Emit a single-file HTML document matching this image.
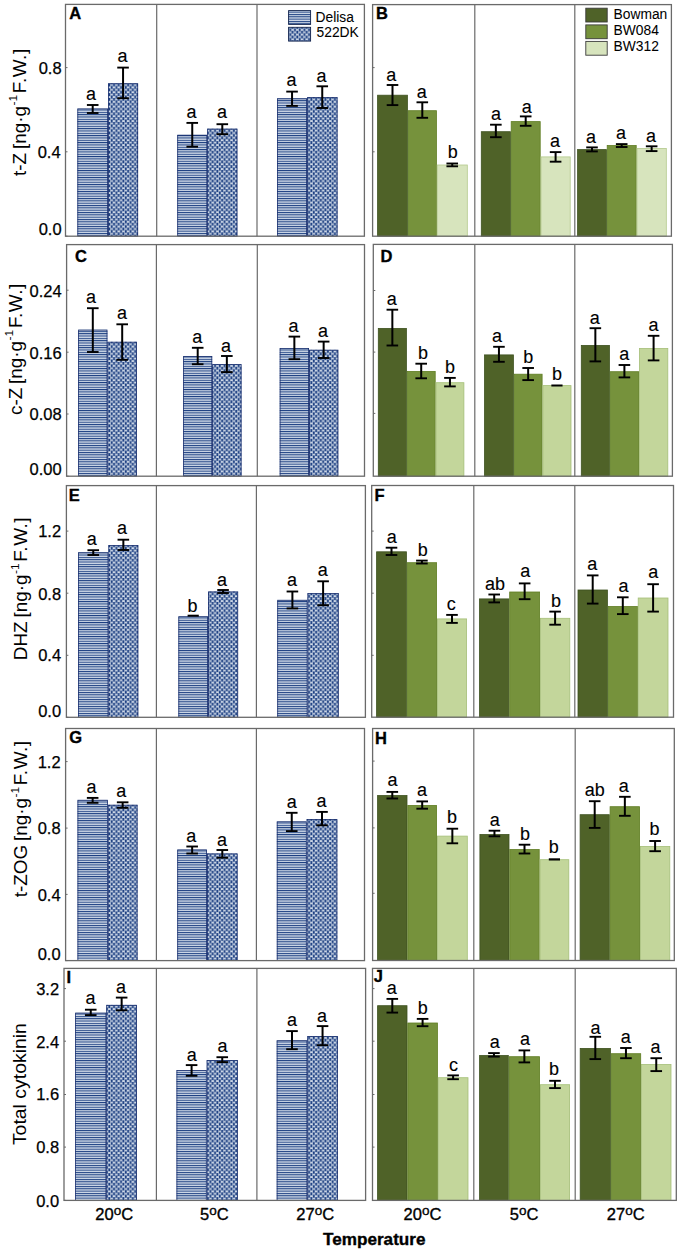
<!DOCTYPE html>
<html><head><meta charset="utf-8"><style>
html,body{margin:0;padding:0;background:#fff;}
body{width:685px;height:1250px;overflow:hidden;}
svg{display:block;}
</style></head><body>
<svg width="685" height="1250" viewBox="0 0 685 1250">
<defs>
<pattern id="hs" patternUnits="userSpaceOnUse" width="8" height="2.33"><rect width="8" height="2.33" fill="#d0dae8"/><rect y="0" width="8" height="1" fill="#1c3f82"/></pattern>
<pattern id="ck" patternUnits="userSpaceOnUse" width="4.7" height="4.8"><rect width="4.7" height="4.8" fill="#bccade"/><rect x="0" y="1.15" width="4.7" height="0.5" fill="#f4f7fb"/><rect x="0" y="3.55" width="4.7" height="0.5" fill="#f4f7fb"/><rect x="0.3" y="1.9" width="1.85" height="3.0" fill="#1c3f82"/><rect x="2.65" y="-0.5" width="1.85" height="3.0" fill="#1c3f82"/><rect x="2.65" y="4.3" width="1.85" height="3.0" fill="#1c3f82"/></pattern>
</defs>
<rect x="77.4" y="108.5" width="30.6" height="127.7" fill="url(#hs)"/>
<rect x="77.8" y="108.9" width="29.8" height="127.3" fill="none" stroke="#1a2f6e" stroke-width="0.8"/>
<rect x="108" y="83.3" width="30.1" height="152.9" fill="url(#ck)"/>
<rect x="108.4" y="83.7" width="29.3" height="152.5" fill="none" stroke="#1a2f6e" stroke-width="0.8"/>
<rect x="177.3" y="134.8" width="29.9" height="101.4" fill="url(#hs)"/>
<rect x="177.7" y="135.2" width="29.1" height="101" fill="none" stroke="#1a2f6e" stroke-width="0.8"/>
<rect x="207.2" y="128.7" width="30.2" height="107.5" fill="url(#ck)"/>
<rect x="207.6" y="129.1" width="29.4" height="107.1" fill="none" stroke="#1a2f6e" stroke-width="0.8"/>
<rect x="277.1" y="98.4" width="29.9" height="137.8" fill="url(#hs)"/>
<rect x="277.5" y="98.8" width="29.1" height="137.4" fill="none" stroke="#1a2f6e" stroke-width="0.8"/>
<rect x="307" y="97.2" width="30.5" height="139" fill="url(#ck)"/>
<rect x="307.4" y="97.6" width="29.7" height="138.6" fill="none" stroke="#1a2f6e" stroke-width="0.8"/>
<line x1="156.7" y1="4.4" x2="156.7" y2="236.2" stroke="#6a6a6a" stroke-width="1.2"/>
<line x1="257" y1="4.4" x2="257" y2="236.2" stroke="#6a6a6a" stroke-width="1.2"/>
<rect x="65.5" y="4.4" width="298.9" height="231.8" fill="none" stroke="#6a6a6a" stroke-width="1.3"/>
<line x1="65.5" y1="67.6" x2="67.5" y2="67.6" stroke="#6a6a6a" stroke-width="1"/>
<line x1="65.5" y1="151.8" x2="67.5" y2="151.8" stroke="#6a6a6a" stroke-width="1"/>
<line x1="65.5" y1="236.2" x2="67.5" y2="236.2" stroke="#6a6a6a" stroke-width="1"/>
<line x1="92.7" y1="105" x2="92.7" y2="113" stroke="#000" stroke-width="2"/>
<line x1="86.9" y1="105" x2="98.5" y2="105" stroke="#000" stroke-width="1.9"/>
<line x1="86.9" y1="113" x2="98.5" y2="113" stroke="#000" stroke-width="1.9"/>
<line x1="123.05" y1="67.6" x2="123.05" y2="98.2" stroke="#000" stroke-width="2"/>
<line x1="117.25" y1="67.6" x2="128.85" y2="67.6" stroke="#000" stroke-width="1.9"/>
<line x1="117.25" y1="98.2" x2="128.85" y2="98.2" stroke="#000" stroke-width="1.9"/>
<line x1="192.25" y1="122.9" x2="192.25" y2="146.7" stroke="#000" stroke-width="2"/>
<line x1="186.45" y1="122.9" x2="198.05" y2="122.9" stroke="#000" stroke-width="1.9"/>
<line x1="186.45" y1="146.7" x2="198.05" y2="146.7" stroke="#000" stroke-width="1.9"/>
<line x1="222.3" y1="124.2" x2="222.3" y2="134.2" stroke="#000" stroke-width="2"/>
<line x1="216.5" y1="124.2" x2="228.1" y2="124.2" stroke="#000" stroke-width="1.9"/>
<line x1="216.5" y1="134.2" x2="228.1" y2="134.2" stroke="#000" stroke-width="1.9"/>
<line x1="292.05" y1="91.6" x2="292.05" y2="105.9" stroke="#000" stroke-width="2"/>
<line x1="286.25" y1="91.6" x2="297.85" y2="91.6" stroke="#000" stroke-width="1.9"/>
<line x1="286.25" y1="105.9" x2="297.85" y2="105.9" stroke="#000" stroke-width="1.9"/>
<line x1="322.25" y1="86.3" x2="322.25" y2="108" stroke="#000" stroke-width="2"/>
<line x1="316.45" y1="86.3" x2="328.05" y2="86.3" stroke="#000" stroke-width="1.9"/>
<line x1="316.45" y1="108" x2="328.05" y2="108" stroke="#000" stroke-width="1.9"/>
<rect x="377.6" y="95.2" width="29.8" height="141" fill="#4f6228" stroke="#3e5220" stroke-width="0.8"/>
<rect x="408.2" y="110.7" width="28.2" height="125.5" fill="#76923c" stroke="#5f7d22" stroke-width="0.8"/>
<rect x="437.2" y="165" width="30.1" height="71.2" fill="#d7e4bd" stroke="#b3c98c" stroke-width="0.8"/>
<rect x="481.3" y="131.7" width="29.1" height="104.5" fill="#4f6228" stroke="#3e5220" stroke-width="0.8"/>
<rect x="511.2" y="121.6" width="29" height="114.6" fill="#76923c" stroke="#5f7d22" stroke-width="0.8"/>
<rect x="541" y="156.9" width="29.2" height="79.3" fill="#d7e4bd" stroke="#b3c98c" stroke-width="0.8"/>
<rect x="577.6" y="149.6" width="28.8" height="86.6" fill="#4f6228" stroke="#3e5220" stroke-width="0.8"/>
<rect x="607.2" y="145.5" width="29" height="90.7" fill="#76923c" stroke="#5f7d22" stroke-width="0.8"/>
<rect x="637" y="148.4" width="29.3" height="87.8" fill="#d7e4bd" stroke="#b3c98c" stroke-width="0.8"/>
<line x1="474.8" y1="4.6" x2="474.8" y2="236.2" stroke="#6a6a6a" stroke-width="1.2"/>
<line x1="574.8" y1="4.6" x2="574.8" y2="236.2" stroke="#6a6a6a" stroke-width="1.2"/>
<rect x="372.6" y="4.6" width="298.8" height="231.6" fill="none" stroke="#6a6a6a" stroke-width="1.3"/>
<line x1="372.6" y1="67.6" x2="374.6" y2="67.6" stroke="#6a6a6a" stroke-width="1"/>
<line x1="372.6" y1="151.8" x2="374.6" y2="151.8" stroke="#6a6a6a" stroke-width="1"/>
<line x1="392.5" y1="85" x2="392.5" y2="105.1" stroke="#000" stroke-width="2"/>
<line x1="386.7" y1="85" x2="398.3" y2="85" stroke="#000" stroke-width="1.9"/>
<line x1="386.7" y1="105.1" x2="398.3" y2="105.1" stroke="#000" stroke-width="1.9"/>
<line x1="422.3" y1="102.3" x2="422.3" y2="117.8" stroke="#000" stroke-width="2"/>
<line x1="416.5" y1="102.3" x2="428.1" y2="102.3" stroke="#000" stroke-width="1.9"/>
<line x1="416.5" y1="117.8" x2="428.1" y2="117.8" stroke="#000" stroke-width="1.9"/>
<line x1="452.25" y1="163.5" x2="452.25" y2="166.3" stroke="#000" stroke-width="2"/>
<line x1="446.45" y1="163.5" x2="458.05" y2="163.5" stroke="#000" stroke-width="1.9"/>
<line x1="446.45" y1="166.3" x2="458.05" y2="166.3" stroke="#000" stroke-width="1.9"/>
<line x1="495.85" y1="124.7" x2="495.85" y2="137.2" stroke="#000" stroke-width="2"/>
<line x1="490.05" y1="124.7" x2="501.65" y2="124.7" stroke="#000" stroke-width="1.9"/>
<line x1="490.05" y1="137.2" x2="501.65" y2="137.2" stroke="#000" stroke-width="1.9"/>
<line x1="525.7" y1="116.4" x2="525.7" y2="125.8" stroke="#000" stroke-width="2"/>
<line x1="519.9" y1="116.4" x2="531.5" y2="116.4" stroke="#000" stroke-width="1.9"/>
<line x1="519.9" y1="125.8" x2="531.5" y2="125.8" stroke="#000" stroke-width="1.9"/>
<line x1="555.6" y1="152.1" x2="555.6" y2="161.7" stroke="#000" stroke-width="2"/>
<line x1="549.8" y1="152.1" x2="561.4" y2="152.1" stroke="#000" stroke-width="1.9"/>
<line x1="549.8" y1="161.7" x2="561.4" y2="161.7" stroke="#000" stroke-width="1.9"/>
<line x1="592" y1="147.4" x2="592" y2="151.4" stroke="#000" stroke-width="2"/>
<line x1="586.2" y1="147.4" x2="597.8" y2="147.4" stroke="#000" stroke-width="1.9"/>
<line x1="586.2" y1="151.4" x2="597.8" y2="151.4" stroke="#000" stroke-width="1.9"/>
<line x1="621.7" y1="144.1" x2="621.7" y2="147" stroke="#000" stroke-width="2"/>
<line x1="615.9" y1="144.1" x2="627.5" y2="144.1" stroke="#000" stroke-width="1.9"/>
<line x1="615.9" y1="147" x2="627.5" y2="147" stroke="#000" stroke-width="1.9"/>
<line x1="651.65" y1="146.3" x2="651.65" y2="151.1" stroke="#000" stroke-width="2"/>
<line x1="645.85" y1="146.3" x2="657.45" y2="146.3" stroke="#000" stroke-width="1.9"/>
<line x1="645.85" y1="151.1" x2="657.45" y2="151.1" stroke="#000" stroke-width="1.9"/>
<rect x="78.2" y="329.7" width="29.2" height="146.5" fill="url(#hs)"/>
<rect x="78.6" y="330.1" width="28.4" height="146.1" fill="none" stroke="#1a2f6e" stroke-width="0.8"/>
<rect x="107.4" y="341.8" width="29.6" height="134.4" fill="url(#ck)"/>
<rect x="107.8" y="342.2" width="28.8" height="134" fill="none" stroke="#1a2f6e" stroke-width="0.8"/>
<rect x="183.2" y="356" width="29" height="120.2" fill="url(#hs)"/>
<rect x="183.6" y="356.4" width="28.2" height="119.8" fill="none" stroke="#1a2f6e" stroke-width="0.8"/>
<rect x="212.2" y="364.2" width="29.3" height="112" fill="url(#ck)"/>
<rect x="212.6" y="364.6" width="28.5" height="111.6" fill="none" stroke="#1a2f6e" stroke-width="0.8"/>
<rect x="279.7" y="348" width="29.3" height="128.2" fill="url(#hs)"/>
<rect x="280.1" y="348.4" width="28.5" height="127.8" fill="none" stroke="#1a2f6e" stroke-width="0.8"/>
<rect x="309" y="349.8" width="29.3" height="126.4" fill="url(#ck)"/>
<rect x="309.4" y="350.2" width="28.5" height="126" fill="none" stroke="#1a2f6e" stroke-width="0.8"/>
<line x1="156.4" y1="244.6" x2="156.4" y2="476.2" stroke="#6a6a6a" stroke-width="1.2"/>
<line x1="257.3" y1="244.6" x2="257.3" y2="476.2" stroke="#6a6a6a" stroke-width="1.2"/>
<rect x="66.6" y="244.6" width="297.9" height="231.6" fill="none" stroke="#6a6a6a" stroke-width="1.3"/>
<line x1="66.6" y1="290.2" x2="68.6" y2="290.2" stroke="#6a6a6a" stroke-width="1"/>
<line x1="66.6" y1="352.2" x2="68.6" y2="352.2" stroke="#6a6a6a" stroke-width="1"/>
<line x1="66.6" y1="414" x2="68.6" y2="414" stroke="#6a6a6a" stroke-width="1"/>
<line x1="66.6" y1="476.2" x2="68.6" y2="476.2" stroke="#6a6a6a" stroke-width="1"/>
<line x1="92.8" y1="308.2" x2="92.8" y2="352" stroke="#000" stroke-width="2"/>
<line x1="87" y1="308.2" x2="98.6" y2="308.2" stroke="#000" stroke-width="1.9"/>
<line x1="87" y1="352" x2="98.6" y2="352" stroke="#000" stroke-width="1.9"/>
<line x1="122.2" y1="324.3" x2="122.2" y2="359.8" stroke="#000" stroke-width="2"/>
<line x1="116.4" y1="324.3" x2="128" y2="324.3" stroke="#000" stroke-width="1.9"/>
<line x1="116.4" y1="359.8" x2="128" y2="359.8" stroke="#000" stroke-width="1.9"/>
<line x1="197.7" y1="347.8" x2="197.7" y2="364.2" stroke="#000" stroke-width="2"/>
<line x1="191.9" y1="347.8" x2="203.5" y2="347.8" stroke="#000" stroke-width="1.9"/>
<line x1="191.9" y1="364.2" x2="203.5" y2="364.2" stroke="#000" stroke-width="1.9"/>
<line x1="226.85" y1="356" x2="226.85" y2="372.1" stroke="#000" stroke-width="2"/>
<line x1="221.05" y1="356" x2="232.65" y2="356" stroke="#000" stroke-width="1.9"/>
<line x1="221.05" y1="372.1" x2="232.65" y2="372.1" stroke="#000" stroke-width="1.9"/>
<line x1="294.35" y1="336.6" x2="294.35" y2="359.2" stroke="#000" stroke-width="2"/>
<line x1="288.55" y1="336.6" x2="300.15" y2="336.6" stroke="#000" stroke-width="1.9"/>
<line x1="288.55" y1="359.2" x2="300.15" y2="359.2" stroke="#000" stroke-width="1.9"/>
<line x1="323.65" y1="341.6" x2="323.65" y2="358" stroke="#000" stroke-width="2"/>
<line x1="317.85" y1="341.6" x2="329.45" y2="341.6" stroke="#000" stroke-width="1.9"/>
<line x1="317.85" y1="358" x2="329.45" y2="358" stroke="#000" stroke-width="1.9"/>
<rect x="378.3" y="328.4" width="28.1" height="147.8" fill="#4f6228" stroke="#3e5220" stroke-width="0.8"/>
<rect x="407.2" y="371.4" width="28" height="104.8" fill="#76923c" stroke="#5f7d22" stroke-width="0.8"/>
<rect x="436" y="382.7" width="27.9" height="93.5" fill="#c3d69b" stroke="#a5bf78" stroke-width="0.8"/>
<rect x="484.5" y="354.9" width="28.9" height="121.3" fill="#4f6228" stroke="#3e5220" stroke-width="0.8"/>
<rect x="514.2" y="374.2" width="27.9" height="102" fill="#76923c" stroke="#5f7d22" stroke-width="0.8"/>
<rect x="542.9" y="385.6" width="28.1" height="90.6" fill="#c3d69b" stroke="#a5bf78" stroke-width="0.8"/>
<rect x="581.3" y="345.4" width="28.1" height="130.8" fill="#4f6228" stroke="#3e5220" stroke-width="0.8"/>
<rect x="610.2" y="371.7" width="28.4" height="104.5" fill="#76923c" stroke="#5f7d22" stroke-width="0.8"/>
<rect x="639.4" y="348.4" width="28.4" height="127.8" fill="#c3d69b" stroke="#a5bf78" stroke-width="0.8"/>
<line x1="474.8" y1="244.4" x2="474.8" y2="476.2" stroke="#6a6a6a" stroke-width="1.2"/>
<line x1="574.8" y1="244.4" x2="574.8" y2="476.2" stroke="#6a6a6a" stroke-width="1.2"/>
<rect x="373.3" y="244.4" width="299.1" height="231.8" fill="none" stroke="#6a6a6a" stroke-width="1.3"/>
<line x1="373.3" y1="290.5" x2="375.3" y2="290.5" stroke="#6a6a6a" stroke-width="1"/>
<line x1="373.3" y1="352.1" x2="375.3" y2="352.1" stroke="#6a6a6a" stroke-width="1"/>
<line x1="373.3" y1="413.4" x2="375.3" y2="413.4" stroke="#6a6a6a" stroke-width="1"/>
<line x1="392.35" y1="309.7" x2="392.35" y2="345.5" stroke="#000" stroke-width="2"/>
<line x1="386.55" y1="309.7" x2="398.15" y2="309.7" stroke="#000" stroke-width="1.9"/>
<line x1="386.55" y1="345.5" x2="398.15" y2="345.5" stroke="#000" stroke-width="1.9"/>
<line x1="421.2" y1="363.7" x2="421.2" y2="378.3" stroke="#000" stroke-width="2"/>
<line x1="415.4" y1="363.7" x2="427" y2="363.7" stroke="#000" stroke-width="1.9"/>
<line x1="415.4" y1="378.3" x2="427" y2="378.3" stroke="#000" stroke-width="1.9"/>
<line x1="449.95" y1="377.9" x2="449.95" y2="386.4" stroke="#000" stroke-width="2"/>
<line x1="444.15" y1="377.9" x2="455.75" y2="377.9" stroke="#000" stroke-width="1.9"/>
<line x1="444.15" y1="386.4" x2="455.75" y2="386.4" stroke="#000" stroke-width="1.9"/>
<line x1="498.95" y1="346.8" x2="498.95" y2="361.8" stroke="#000" stroke-width="2"/>
<line x1="493.15" y1="346.8" x2="504.75" y2="346.8" stroke="#000" stroke-width="1.9"/>
<line x1="493.15" y1="361.8" x2="504.75" y2="361.8" stroke="#000" stroke-width="1.9"/>
<line x1="528.15" y1="368" x2="528.15" y2="380.1" stroke="#000" stroke-width="2"/>
<line x1="522.35" y1="368" x2="533.95" y2="368" stroke="#000" stroke-width="1.9"/>
<line x1="522.35" y1="380.1" x2="533.95" y2="380.1" stroke="#000" stroke-width="1.9"/>
<line x1="551.35" y1="385.5" x2="562.55" y2="385.5" stroke="#000" stroke-width="2"/>
<line x1="595.35" y1="328.2" x2="595.35" y2="361.4" stroke="#000" stroke-width="2"/>
<line x1="589.55" y1="328.2" x2="601.15" y2="328.2" stroke="#000" stroke-width="1.9"/>
<line x1="589.55" y1="361.4" x2="601.15" y2="361.4" stroke="#000" stroke-width="1.9"/>
<line x1="624.4" y1="365" x2="624.4" y2="377.4" stroke="#000" stroke-width="2"/>
<line x1="618.6" y1="365" x2="630.2" y2="365" stroke="#000" stroke-width="1.9"/>
<line x1="618.6" y1="377.4" x2="630.2" y2="377.4" stroke="#000" stroke-width="1.9"/>
<line x1="653.6" y1="335.8" x2="653.6" y2="360.4" stroke="#000" stroke-width="2"/>
<line x1="647.8" y1="335.8" x2="659.4" y2="335.8" stroke="#000" stroke-width="1.9"/>
<line x1="647.8" y1="360.4" x2="659.4" y2="360.4" stroke="#000" stroke-width="1.9"/>
<rect x="78.1" y="552.4" width="30.3" height="164.9" fill="url(#hs)"/>
<rect x="78.5" y="552.8" width="29.5" height="164.5" fill="none" stroke="#1a2f6e" stroke-width="0.8"/>
<rect x="108.4" y="545.2" width="29.9" height="172.1" fill="url(#ck)"/>
<rect x="108.8" y="545.6" width="29.1" height="171.7" fill="none" stroke="#1a2f6e" stroke-width="0.8"/>
<rect x="178.4" y="616.3" width="29.6" height="101" fill="url(#hs)"/>
<rect x="178.8" y="616.7" width="28.8" height="100.6" fill="none" stroke="#1a2f6e" stroke-width="0.8"/>
<rect x="208" y="591.5" width="30.1" height="125.8" fill="url(#ck)"/>
<rect x="208.4" y="591.9" width="29.3" height="125.4" fill="none" stroke="#1a2f6e" stroke-width="0.8"/>
<rect x="277.3" y="599.9" width="30.2" height="117.4" fill="url(#hs)"/>
<rect x="277.7" y="600.3" width="29.4" height="117" fill="none" stroke="#1a2f6e" stroke-width="0.8"/>
<rect x="307.5" y="593.2" width="31.2" height="124.1" fill="url(#ck)"/>
<rect x="307.9" y="593.6" width="30.4" height="123.7" fill="none" stroke="#1a2f6e" stroke-width="0.8"/>
<line x1="156.4" y1="485.6" x2="156.4" y2="717.3" stroke="#6a6a6a" stroke-width="1.2"/>
<line x1="256.4" y1="485.6" x2="256.4" y2="717.3" stroke="#6a6a6a" stroke-width="1.2"/>
<rect x="66.4" y="485.6" width="299" height="231.7" fill="none" stroke="#6a6a6a" stroke-width="1.3"/>
<line x1="66.4" y1="531.1" x2="68.4" y2="531.1" stroke="#6a6a6a" stroke-width="1"/>
<line x1="66.4" y1="593.2" x2="68.4" y2="593.2" stroke="#6a6a6a" stroke-width="1"/>
<line x1="66.4" y1="655.3" x2="68.4" y2="655.3" stroke="#6a6a6a" stroke-width="1"/>
<line x1="66.4" y1="717.3" x2="68.4" y2="717.3" stroke="#6a6a6a" stroke-width="1"/>
<line x1="93.25" y1="550.2" x2="93.25" y2="555" stroke="#000" stroke-width="2"/>
<line x1="87.45" y1="550.2" x2="99.05" y2="550.2" stroke="#000" stroke-width="1.9"/>
<line x1="87.45" y1="555" x2="99.05" y2="555" stroke="#000" stroke-width="1.9"/>
<line x1="123.35" y1="539.7" x2="123.35" y2="550" stroke="#000" stroke-width="2"/>
<line x1="117.55" y1="539.7" x2="129.15" y2="539.7" stroke="#000" stroke-width="1.9"/>
<line x1="117.55" y1="550" x2="129.15" y2="550" stroke="#000" stroke-width="1.9"/>
<line x1="187.6" y1="615.7" x2="198.8" y2="615.7" stroke="#000" stroke-width="2"/>
<line x1="223.05" y1="590" x2="223.05" y2="593" stroke="#000" stroke-width="2"/>
<line x1="217.25" y1="590" x2="228.85" y2="590" stroke="#000" stroke-width="1.9"/>
<line x1="217.25" y1="593" x2="228.85" y2="593" stroke="#000" stroke-width="1.9"/>
<line x1="292.4" y1="591.5" x2="292.4" y2="608.4" stroke="#000" stroke-width="2"/>
<line x1="286.6" y1="591.5" x2="298.2" y2="591.5" stroke="#000" stroke-width="1.9"/>
<line x1="286.6" y1="608.4" x2="298.2" y2="608.4" stroke="#000" stroke-width="1.9"/>
<line x1="323.1" y1="581.3" x2="323.1" y2="605.2" stroke="#000" stroke-width="2"/>
<line x1="317.3" y1="581.3" x2="328.9" y2="581.3" stroke="#000" stroke-width="1.9"/>
<line x1="317.3" y1="605.2" x2="328.9" y2="605.2" stroke="#000" stroke-width="1.9"/>
<rect x="376.6" y="551.8" width="29.8" height="165.4" fill="#4f6228" stroke="#3e5220" stroke-width="0.8"/>
<rect x="407.2" y="562.7" width="29.4" height="154.5" fill="#76923c" stroke="#5f7d22" stroke-width="0.8"/>
<rect x="437.4" y="618.9" width="29.2" height="98.3" fill="#c3d69b" stroke="#a5bf78" stroke-width="0.8"/>
<rect x="479.5" y="598.9" width="29.4" height="118.3" fill="#4f6228" stroke="#3e5220" stroke-width="0.8"/>
<rect x="509.7" y="592" width="29.9" height="125.2" fill="#76923c" stroke="#5f7d22" stroke-width="0.8"/>
<rect x="540.4" y="618.3" width="29.4" height="98.9" fill="#c3d69b" stroke="#a5bf78" stroke-width="0.8"/>
<rect x="578" y="590" width="29.4" height="127.2" fill="#4f6228" stroke="#3e5220" stroke-width="0.8"/>
<rect x="608.2" y="606.5" width="29.2" height="110.7" fill="#76923c" stroke="#5f7d22" stroke-width="0.8"/>
<rect x="638.2" y="598" width="29.8" height="119.2" fill="#c3d69b" stroke="#a5bf78" stroke-width="0.8"/>
<line x1="473.8" y1="485.5" x2="473.8" y2="717.2" stroke="#6a6a6a" stroke-width="1.2"/>
<line x1="574.8" y1="485.5" x2="574.8" y2="717.2" stroke="#6a6a6a" stroke-width="1.2"/>
<rect x="371.7" y="485.5" width="301.8" height="231.7" fill="none" stroke="#6a6a6a" stroke-width="1.3"/>
<line x1="371.7" y1="531.1" x2="373.7" y2="531.1" stroke="#6a6a6a" stroke-width="1"/>
<line x1="371.7" y1="593.2" x2="373.7" y2="593.2" stroke="#6a6a6a" stroke-width="1"/>
<line x1="371.7" y1="655.3" x2="373.7" y2="655.3" stroke="#6a6a6a" stroke-width="1"/>
<line x1="391.5" y1="547.7" x2="391.5" y2="555" stroke="#000" stroke-width="2"/>
<line x1="385.7" y1="547.7" x2="397.3" y2="547.7" stroke="#000" stroke-width="1.9"/>
<line x1="385.7" y1="555" x2="397.3" y2="555" stroke="#000" stroke-width="1.9"/>
<line x1="421.9" y1="560.6" x2="421.9" y2="563.5" stroke="#000" stroke-width="2"/>
<line x1="416.1" y1="560.6" x2="427.7" y2="560.6" stroke="#000" stroke-width="1.9"/>
<line x1="416.1" y1="563.5" x2="427.7" y2="563.5" stroke="#000" stroke-width="1.9"/>
<line x1="452" y1="614.9" x2="452" y2="622.9" stroke="#000" stroke-width="2"/>
<line x1="446.2" y1="614.9" x2="457.8" y2="614.9" stroke="#000" stroke-width="1.9"/>
<line x1="446.2" y1="622.9" x2="457.8" y2="622.9" stroke="#000" stroke-width="1.9"/>
<line x1="494.2" y1="594.5" x2="494.2" y2="602.4" stroke="#000" stroke-width="2"/>
<line x1="488.4" y1="594.5" x2="500" y2="594.5" stroke="#000" stroke-width="1.9"/>
<line x1="488.4" y1="602.4" x2="500" y2="602.4" stroke="#000" stroke-width="1.9"/>
<line x1="524.65" y1="583.4" x2="524.65" y2="599.2" stroke="#000" stroke-width="2"/>
<line x1="518.85" y1="583.4" x2="530.45" y2="583.4" stroke="#000" stroke-width="1.9"/>
<line x1="518.85" y1="599.2" x2="530.45" y2="599.2" stroke="#000" stroke-width="1.9"/>
<line x1="555.1" y1="611.6" x2="555.1" y2="624.7" stroke="#000" stroke-width="2"/>
<line x1="549.3" y1="611.6" x2="560.9" y2="611.6" stroke="#000" stroke-width="1.9"/>
<line x1="549.3" y1="624.7" x2="560.9" y2="624.7" stroke="#000" stroke-width="1.9"/>
<line x1="592.7" y1="575.4" x2="592.7" y2="603.6" stroke="#000" stroke-width="2"/>
<line x1="586.9" y1="575.4" x2="598.5" y2="575.4" stroke="#000" stroke-width="1.9"/>
<line x1="586.9" y1="603.6" x2="598.5" y2="603.6" stroke="#000" stroke-width="1.9"/>
<line x1="622.8" y1="597.3" x2="622.8" y2="614.1" stroke="#000" stroke-width="2"/>
<line x1="617" y1="597.3" x2="628.6" y2="597.3" stroke="#000" stroke-width="1.9"/>
<line x1="617" y1="614.1" x2="628.6" y2="614.1" stroke="#000" stroke-width="1.9"/>
<line x1="653.1" y1="584.2" x2="653.1" y2="611.6" stroke="#000" stroke-width="2"/>
<line x1="647.3" y1="584.2" x2="658.9" y2="584.2" stroke="#000" stroke-width="1.9"/>
<line x1="647.3" y1="611.6" x2="658.9" y2="611.6" stroke="#000" stroke-width="1.9"/>
<rect x="77.5" y="799.9" width="30.3" height="160.7" fill="url(#hs)"/>
<rect x="77.9" y="800.3" width="29.5" height="160.3" fill="none" stroke="#1a2f6e" stroke-width="0.8"/>
<rect x="107.8" y="804.8" width="29.7" height="155.8" fill="url(#ck)"/>
<rect x="108.2" y="805.2" width="28.9" height="155.4" fill="none" stroke="#1a2f6e" stroke-width="0.8"/>
<rect x="177.3" y="849.5" width="29.7" height="111.1" fill="url(#hs)"/>
<rect x="177.7" y="849.9" width="28.9" height="110.7" fill="none" stroke="#1a2f6e" stroke-width="0.8"/>
<rect x="207" y="853.5" width="30.6" height="107.1" fill="url(#ck)"/>
<rect x="207.4" y="853.9" width="29.8" height="106.7" fill="none" stroke="#1a2f6e" stroke-width="0.8"/>
<rect x="276.8" y="821.4" width="29.9" height="139.2" fill="url(#hs)"/>
<rect x="277.2" y="821.8" width="29.1" height="138.8" fill="none" stroke="#1a2f6e" stroke-width="0.8"/>
<rect x="306.7" y="819" width="30.6" height="141.6" fill="url(#ck)"/>
<rect x="307.1" y="819.4" width="29.8" height="141.2" fill="none" stroke="#1a2f6e" stroke-width="0.8"/>
<line x1="156.4" y1="728.5" x2="156.4" y2="960.6" stroke="#6a6a6a" stroke-width="1.2"/>
<line x1="256.4" y1="728.5" x2="256.4" y2="960.6" stroke="#6a6a6a" stroke-width="1.2"/>
<rect x="65.6" y="728.5" width="298.9" height="232.1" fill="none" stroke="#6a6a6a" stroke-width="1.3"/>
<line x1="65.6" y1="761.6" x2="67.6" y2="761.6" stroke="#6a6a6a" stroke-width="1"/>
<line x1="65.6" y1="828.1" x2="67.6" y2="828.1" stroke="#6a6a6a" stroke-width="1"/>
<line x1="65.6" y1="894.4" x2="67.6" y2="894.4" stroke="#6a6a6a" stroke-width="1"/>
<line x1="65.6" y1="960.6" x2="67.6" y2="960.6" stroke="#6a6a6a" stroke-width="1"/>
<line x1="92.65" y1="797.9" x2="92.65" y2="802.8" stroke="#000" stroke-width="2"/>
<line x1="86.85" y1="797.9" x2="98.45" y2="797.9" stroke="#000" stroke-width="1.9"/>
<line x1="86.85" y1="802.8" x2="98.45" y2="802.8" stroke="#000" stroke-width="1.9"/>
<line x1="122.65" y1="802.3" x2="122.65" y2="807.8" stroke="#000" stroke-width="2"/>
<line x1="116.85" y1="802.3" x2="128.45" y2="802.3" stroke="#000" stroke-width="1.9"/>
<line x1="116.85" y1="807.8" x2="128.45" y2="807.8" stroke="#000" stroke-width="1.9"/>
<line x1="192.15" y1="846.5" x2="192.15" y2="853.5" stroke="#000" stroke-width="2"/>
<line x1="186.35" y1="846.5" x2="197.95" y2="846.5" stroke="#000" stroke-width="1.9"/>
<line x1="186.35" y1="853.5" x2="197.95" y2="853.5" stroke="#000" stroke-width="1.9"/>
<line x1="222.3" y1="850" x2="222.3" y2="857.7" stroke="#000" stroke-width="2"/>
<line x1="216.5" y1="850" x2="228.1" y2="850" stroke="#000" stroke-width="1.9"/>
<line x1="216.5" y1="857.7" x2="228.1" y2="857.7" stroke="#000" stroke-width="1.9"/>
<line x1="291.75" y1="812.8" x2="291.75" y2="831.1" stroke="#000" stroke-width="2"/>
<line x1="285.95" y1="812.8" x2="297.55" y2="812.8" stroke="#000" stroke-width="1.9"/>
<line x1="285.95" y1="831.1" x2="297.55" y2="831.1" stroke="#000" stroke-width="1.9"/>
<line x1="322" y1="811.9" x2="322" y2="825.3" stroke="#000" stroke-width="2"/>
<line x1="316.2" y1="811.9" x2="327.8" y2="811.9" stroke="#000" stroke-width="1.9"/>
<line x1="316.2" y1="825.3" x2="327.8" y2="825.3" stroke="#000" stroke-width="1.9"/>
<rect x="377.6" y="795.5" width="29.4" height="165" fill="#4f6228" stroke="#3e5220" stroke-width="0.8"/>
<rect x="407.8" y="805.4" width="28.8" height="155.1" fill="#76923c" stroke="#5f7d22" stroke-width="0.8"/>
<rect x="437.4" y="836.1" width="29.9" height="124.4" fill="#c3d69b" stroke="#a5bf78" stroke-width="0.8"/>
<rect x="479.9" y="834.5" width="29.1" height="126" fill="#4f6228" stroke="#3e5220" stroke-width="0.8"/>
<rect x="509.8" y="849.5" width="29.4" height="111" fill="#76923c" stroke="#5f7d22" stroke-width="0.8"/>
<rect x="540" y="859.7" width="28.8" height="100.8" fill="#c3d69b" stroke="#a5bf78" stroke-width="0.8"/>
<rect x="580.1" y="814.7" width="29.2" height="145.8" fill="#4f6228" stroke="#3e5220" stroke-width="0.8"/>
<rect x="610.1" y="806.7" width="29.5" height="153.8" fill="#76923c" stroke="#5f7d22" stroke-width="0.8"/>
<rect x="640.4" y="846.4" width="29.4" height="114.1" fill="#c3d69b" stroke="#a5bf78" stroke-width="0.8"/>
<line x1="473.8" y1="728.5" x2="473.8" y2="960.5" stroke="#6a6a6a" stroke-width="1.2"/>
<line x1="575.2" y1="728.5" x2="575.2" y2="960.5" stroke="#6a6a6a" stroke-width="1.2"/>
<rect x="372.6" y="728.5" width="301.7" height="232" fill="none" stroke="#6a6a6a" stroke-width="1.3"/>
<line x1="372.6" y1="761.1" x2="374.6" y2="761.1" stroke="#6a6a6a" stroke-width="1"/>
<line x1="372.6" y1="827.9" x2="374.6" y2="827.9" stroke="#6a6a6a" stroke-width="1"/>
<line x1="372.6" y1="893.3" x2="374.6" y2="893.3" stroke="#6a6a6a" stroke-width="1"/>
<line x1="392.3" y1="791.9" x2="392.3" y2="798.5" stroke="#000" stroke-width="2"/>
<line x1="386.5" y1="791.9" x2="398.1" y2="791.9" stroke="#000" stroke-width="1.9"/>
<line x1="386.5" y1="798.5" x2="398.1" y2="798.5" stroke="#000" stroke-width="1.9"/>
<line x1="422.2" y1="801.4" x2="422.2" y2="808.7" stroke="#000" stroke-width="2"/>
<line x1="416.4" y1="801.4" x2="428" y2="801.4" stroke="#000" stroke-width="1.9"/>
<line x1="416.4" y1="808.7" x2="428" y2="808.7" stroke="#000" stroke-width="1.9"/>
<line x1="452.35" y1="828.7" x2="452.35" y2="843.3" stroke="#000" stroke-width="2"/>
<line x1="446.55" y1="828.7" x2="458.15" y2="828.7" stroke="#000" stroke-width="1.9"/>
<line x1="446.55" y1="843.3" x2="458.15" y2="843.3" stroke="#000" stroke-width="1.9"/>
<line x1="494.45" y1="830.7" x2="494.45" y2="836.3" stroke="#000" stroke-width="2"/>
<line x1="488.65" y1="830.7" x2="500.25" y2="830.7" stroke="#000" stroke-width="1.9"/>
<line x1="488.65" y1="836.3" x2="500.25" y2="836.3" stroke="#000" stroke-width="1.9"/>
<line x1="524.5" y1="844.7" x2="524.5" y2="853.5" stroke="#000" stroke-width="2"/>
<line x1="518.7" y1="844.7" x2="530.3" y2="844.7" stroke="#000" stroke-width="1.9"/>
<line x1="518.7" y1="853.5" x2="530.3" y2="853.5" stroke="#000" stroke-width="1.9"/>
<line x1="548.8" y1="859.4" x2="560" y2="859.4" stroke="#000" stroke-width="2.2"/>
<line x1="594.7" y1="801.2" x2="594.7" y2="827.9" stroke="#000" stroke-width="2"/>
<line x1="588.9" y1="801.2" x2="600.5" y2="801.2" stroke="#000" stroke-width="1.9"/>
<line x1="588.9" y1="827.9" x2="600.5" y2="827.9" stroke="#000" stroke-width="1.9"/>
<line x1="624.85" y1="796.8" x2="624.85" y2="815.8" stroke="#000" stroke-width="2"/>
<line x1="619.05" y1="796.8" x2="630.65" y2="796.8" stroke="#000" stroke-width="1.9"/>
<line x1="619.05" y1="815.8" x2="630.65" y2="815.8" stroke="#000" stroke-width="1.9"/>
<line x1="655.1" y1="841" x2="655.1" y2="851.2" stroke="#000" stroke-width="2"/>
<line x1="649.3" y1="841" x2="660.9" y2="841" stroke="#000" stroke-width="1.9"/>
<line x1="649.3" y1="851.2" x2="660.9" y2="851.2" stroke="#000" stroke-width="1.9"/>
<rect x="75.2" y="1012.7" width="31.1" height="187.7" fill="url(#hs)"/>
<rect x="75.6" y="1013.1" width="30.3" height="187.3" fill="none" stroke="#1a2f6e" stroke-width="0.8"/>
<rect x="106.3" y="1004.9" width="30.7" height="195.5" fill="url(#ck)"/>
<rect x="106.7" y="1005.3" width="29.9" height="195.1" fill="none" stroke="#1a2f6e" stroke-width="0.8"/>
<rect x="176.5" y="1070.1" width="30.2" height="130.3" fill="url(#hs)"/>
<rect x="176.9" y="1070.5" width="29.4" height="129.9" fill="none" stroke="#1a2f6e" stroke-width="0.8"/>
<rect x="206.7" y="1060.1" width="31.1" height="140.3" fill="url(#ck)"/>
<rect x="207.1" y="1060.5" width="30.3" height="139.9" fill="none" stroke="#1a2f6e" stroke-width="0.8"/>
<rect x="276.7" y="1040.3" width="30.6" height="160.1" fill="url(#hs)"/>
<rect x="277.1" y="1040.7" width="29.8" height="159.7" fill="none" stroke="#1a2f6e" stroke-width="0.8"/>
<rect x="307.3" y="1036.1" width="30.5" height="164.3" fill="url(#ck)"/>
<rect x="307.7" y="1036.5" width="29.7" height="163.9" fill="none" stroke="#1a2f6e" stroke-width="0.8"/>
<line x1="156.4" y1="968.4" x2="156.4" y2="1200.4" stroke="#6a6a6a" stroke-width="1.2"/>
<line x1="256.9" y1="968.4" x2="256.9" y2="1200.4" stroke="#6a6a6a" stroke-width="1.2"/>
<rect x="64" y="968.4" width="301.6" height="232" fill="none" stroke="#6a6a6a" stroke-width="1.3"/>
<line x1="64" y1="988.6" x2="66" y2="988.6" stroke="#6a6a6a" stroke-width="1"/>
<line x1="64" y1="1041.2" x2="66" y2="1041.2" stroke="#6a6a6a" stroke-width="1"/>
<line x1="64" y1="1094.5" x2="66" y2="1094.5" stroke="#6a6a6a" stroke-width="1"/>
<line x1="64" y1="1147.1" x2="66" y2="1147.1" stroke="#6a6a6a" stroke-width="1"/>
<line x1="64" y1="1200.4" x2="66" y2="1200.4" stroke="#6a6a6a" stroke-width="1"/>
<line x1="90.75" y1="1009.7" x2="90.75" y2="1015.1" stroke="#000" stroke-width="2"/>
<line x1="84.95" y1="1009.7" x2="96.55" y2="1009.7" stroke="#000" stroke-width="1.9"/>
<line x1="84.95" y1="1015.1" x2="96.55" y2="1015.1" stroke="#000" stroke-width="1.9"/>
<line x1="121.65" y1="997.6" x2="121.65" y2="1010.3" stroke="#000" stroke-width="2"/>
<line x1="115.85" y1="997.6" x2="127.45" y2="997.6" stroke="#000" stroke-width="1.9"/>
<line x1="115.85" y1="1010.3" x2="127.45" y2="1010.3" stroke="#000" stroke-width="1.9"/>
<line x1="191.6" y1="1065.1" x2="191.6" y2="1075.8" stroke="#000" stroke-width="2"/>
<line x1="185.8" y1="1065.1" x2="197.4" y2="1065.1" stroke="#000" stroke-width="1.9"/>
<line x1="185.8" y1="1075.8" x2="197.4" y2="1075.8" stroke="#000" stroke-width="1.9"/>
<line x1="222.25" y1="1057.2" x2="222.25" y2="1062.1" stroke="#000" stroke-width="2"/>
<line x1="216.45" y1="1057.2" x2="228.05" y2="1057.2" stroke="#000" stroke-width="1.9"/>
<line x1="216.45" y1="1062.1" x2="228.05" y2="1062.1" stroke="#000" stroke-width="1.9"/>
<line x1="292" y1="1031.1" x2="292" y2="1049.2" stroke="#000" stroke-width="2"/>
<line x1="286.2" y1="1031.1" x2="297.8" y2="1031.1" stroke="#000" stroke-width="1.9"/>
<line x1="286.2" y1="1049.2" x2="297.8" y2="1049.2" stroke="#000" stroke-width="1.9"/>
<line x1="322.55" y1="1026.1" x2="322.55" y2="1045.2" stroke="#000" stroke-width="2"/>
<line x1="316.75" y1="1026.1" x2="328.35" y2="1026.1" stroke="#000" stroke-width="1.9"/>
<line x1="316.75" y1="1045.2" x2="328.35" y2="1045.2" stroke="#000" stroke-width="1.9"/>
<rect x="377.6" y="1005.7" width="29.4" height="194.7" fill="#4f6228" stroke="#3e5220" stroke-width="0.8"/>
<rect x="407.8" y="1023" width="29.6" height="177.4" fill="#76923c" stroke="#5f7d22" stroke-width="0.8"/>
<rect x="438.2" y="1077.7" width="29.8" height="122.7" fill="#c3d69b" stroke="#a5bf78" stroke-width="0.8"/>
<rect x="479.6" y="1055.5" width="28.7" height="144.9" fill="#4f6228" stroke="#3e5220" stroke-width="0.8"/>
<rect x="509.1" y="1056.7" width="30.5" height="143.7" fill="#76923c" stroke="#5f7d22" stroke-width="0.8"/>
<rect x="540.4" y="1084.7" width="29.2" height="115.7" fill="#c3d69b" stroke="#a5bf78" stroke-width="0.8"/>
<rect x="580.2" y="1048.4" width="30.2" height="152" fill="#4f6228" stroke="#3e5220" stroke-width="0.8"/>
<rect x="611.2" y="1053.7" width="29.5" height="146.7" fill="#76923c" stroke="#5f7d22" stroke-width="0.8"/>
<rect x="641.5" y="1064.5" width="29.5" height="135.9" fill="#c3d69b" stroke="#a5bf78" stroke-width="0.8"/>
<line x1="473.8" y1="968.4" x2="473.8" y2="1200.4" stroke="#6a6a6a" stroke-width="1.2"/>
<line x1="575.2" y1="968.4" x2="575.2" y2="1200.4" stroke="#6a6a6a" stroke-width="1.2"/>
<rect x="372.5" y="968.4" width="303.8" height="232" fill="none" stroke="#6a6a6a" stroke-width="1.3"/>
<line x1="372.5" y1="988.6" x2="374.5" y2="988.6" stroke="#6a6a6a" stroke-width="1"/>
<line x1="372.5" y1="1041.2" x2="374.5" y2="1041.2" stroke="#6a6a6a" stroke-width="1"/>
<line x1="372.5" y1="1094.5" x2="374.5" y2="1094.5" stroke="#6a6a6a" stroke-width="1"/>
<line x1="372.5" y1="1147.1" x2="374.5" y2="1147.1" stroke="#6a6a6a" stroke-width="1"/>
<line x1="392.3" y1="998.9" x2="392.3" y2="1012.6" stroke="#000" stroke-width="2"/>
<line x1="386.5" y1="998.9" x2="398.1" y2="998.9" stroke="#000" stroke-width="1.9"/>
<line x1="386.5" y1="1012.6" x2="398.1" y2="1012.6" stroke="#000" stroke-width="1.9"/>
<line x1="422.6" y1="1018.9" x2="422.6" y2="1026.2" stroke="#000" stroke-width="2"/>
<line x1="416.8" y1="1018.9" x2="428.4" y2="1018.9" stroke="#000" stroke-width="1.9"/>
<line x1="416.8" y1="1026.2" x2="428.4" y2="1026.2" stroke="#000" stroke-width="1.9"/>
<line x1="453.1" y1="1075.4" x2="453.1" y2="1079.2" stroke="#000" stroke-width="2"/>
<line x1="447.3" y1="1075.4" x2="458.9" y2="1075.4" stroke="#000" stroke-width="1.9"/>
<line x1="447.3" y1="1079.2" x2="458.9" y2="1079.2" stroke="#000" stroke-width="1.9"/>
<line x1="493.95" y1="1053.1" x2="493.95" y2="1056.6" stroke="#000" stroke-width="2"/>
<line x1="488.15" y1="1053.1" x2="499.75" y2="1053.1" stroke="#000" stroke-width="1.9"/>
<line x1="488.15" y1="1056.6" x2="499.75" y2="1056.6" stroke="#000" stroke-width="1.9"/>
<line x1="524.35" y1="1050.4" x2="524.35" y2="1062.4" stroke="#000" stroke-width="2"/>
<line x1="518.55" y1="1050.4" x2="530.15" y2="1050.4" stroke="#000" stroke-width="1.9"/>
<line x1="518.55" y1="1062.4" x2="530.15" y2="1062.4" stroke="#000" stroke-width="1.9"/>
<line x1="555" y1="1080.8" x2="555" y2="1088.1" stroke="#000" stroke-width="2"/>
<line x1="549.2" y1="1080.8" x2="560.8" y2="1080.8" stroke="#000" stroke-width="1.9"/>
<line x1="549.2" y1="1088.1" x2="560.8" y2="1088.1" stroke="#000" stroke-width="1.9"/>
<line x1="595.3" y1="1036.8" x2="595.3" y2="1059.1" stroke="#000" stroke-width="2"/>
<line x1="589.5" y1="1036.8" x2="601.1" y2="1036.8" stroke="#000" stroke-width="1.9"/>
<line x1="589.5" y1="1059.1" x2="601.1" y2="1059.1" stroke="#000" stroke-width="1.9"/>
<line x1="625.95" y1="1048" x2="625.95" y2="1058.2" stroke="#000" stroke-width="2"/>
<line x1="620.15" y1="1048" x2="631.75" y2="1048" stroke="#000" stroke-width="1.9"/>
<line x1="620.15" y1="1058.2" x2="631.75" y2="1058.2" stroke="#000" stroke-width="1.9"/>
<line x1="656.25" y1="1058.2" x2="656.25" y2="1071.1" stroke="#000" stroke-width="2"/>
<line x1="650.45" y1="1058.2" x2="662.05" y2="1058.2" stroke="#000" stroke-width="1.9"/>
<line x1="650.45" y1="1071.1" x2="662.05" y2="1071.1" stroke="#000" stroke-width="1.9"/>
<rect x="288.6" y="10.6" width="22" height="13.8" fill="url(#hs)" stroke="#0d1f4a" stroke-width="0.9"/>
<rect x="288.6" y="27.3" width="22" height="13.8" fill="url(#ck)" stroke="#0d1f4a" stroke-width="0.9"/>
<rect x="585.8" y="8.2" width="21.4" height="13.8" fill="#4f6228" stroke="#3a3a3a" stroke-width="0.9"/>
<rect x="585.8" y="24.9" width="21.4" height="13.8" fill="#76923c" stroke="#3a3a3a" stroke-width="0.9"/>
<rect x="585.8" y="41.4" width="21.4" height="13.8" fill="#d7e4bd" stroke="#3a3a3a" stroke-width="0.9"/>
<text x="69.2" y="18.8" font-size="16.5" font-family="Liberation Sans, sans-serif" font-weight="bold" stroke="#000" stroke-width="0.35">A</text>
<text x="376" y="19.2" font-size="16.5" font-family="Liberation Sans, sans-serif" font-weight="bold" stroke="#000" stroke-width="0.35">B</text>
<text x="75" y="262.3" font-size="16.5" font-family="Liberation Sans, sans-serif" font-weight="bold" stroke="#000" stroke-width="0.35">C</text>
<text x="380.4" y="261.6" font-size="16.5" font-family="Liberation Sans, sans-serif" font-weight="bold" stroke="#000" stroke-width="0.35">D</text>
<text x="68.8" y="501" font-size="16.5" font-family="Liberation Sans, sans-serif" font-weight="bold" stroke="#000" stroke-width="0.35">E</text>
<text x="374.5" y="500.6" font-size="16.5" font-family="Liberation Sans, sans-serif" font-weight="bold" stroke="#000" stroke-width="0.35">F</text>
<text x="69.3" y="743.2" font-size="16.5" font-family="Liberation Sans, sans-serif" font-weight="bold" stroke="#000" stroke-width="0.35">G</text>
<text x="375.1" y="744.3" font-size="16.5" font-family="Liberation Sans, sans-serif" font-weight="bold" stroke="#000" stroke-width="0.35">H</text>
<text x="66.4" y="982.7" font-size="16.5" font-family="Liberation Sans, sans-serif" font-weight="bold" stroke="#000" stroke-width="0.35">I</text>
<text x="373.7" y="982.1" font-size="16.5" font-family="Liberation Sans, sans-serif" font-weight="bold" stroke="#000" stroke-width="0.35">J</text>
<text x="61.6" y="73.6" font-size="16.5" font-family="Liberation Sans, sans-serif" text-anchor="end" stroke="#000" stroke-width="0.25">0.8</text>
<text x="60.6" y="157.6" font-size="16.5" font-family="Liberation Sans, sans-serif" text-anchor="end" stroke="#000" stroke-width="0.25">0.4</text>
<text x="61.6" y="235.1" font-size="16.5" font-family="Liberation Sans, sans-serif" text-anchor="end" stroke="#000" stroke-width="0.25">0.0</text>
<text x="61.6" y="296.6" font-size="16.5" font-family="Liberation Sans, sans-serif" text-anchor="end" stroke="#000" stroke-width="0.25">0.24</text>
<text x="61.6" y="358.6" font-size="16.5" font-family="Liberation Sans, sans-serif" text-anchor="end" stroke="#000" stroke-width="0.25">0.16</text>
<text x="61.6" y="419.6" font-size="16.5" font-family="Liberation Sans, sans-serif" text-anchor="end" stroke="#000" stroke-width="0.25">0.08</text>
<text x="61.6" y="475.1" font-size="16.5" font-family="Liberation Sans, sans-serif" text-anchor="end" stroke="#000" stroke-width="0.25">0.00</text>
<text x="61.1" y="537.1" font-size="16.5" font-family="Liberation Sans, sans-serif" text-anchor="end" stroke="#000" stroke-width="0.25">1.2</text>
<text x="61.1" y="599.6" font-size="16.5" font-family="Liberation Sans, sans-serif" text-anchor="end" stroke="#000" stroke-width="0.25">0.8</text>
<text x="61.1" y="661.1" font-size="16.5" font-family="Liberation Sans, sans-serif" text-anchor="end" stroke="#000" stroke-width="0.25">0.4</text>
<text x="61.1" y="717.1" font-size="16.5" font-family="Liberation Sans, sans-serif" text-anchor="end" stroke="#000" stroke-width="0.25">0.0</text>
<text x="60.6" y="767.6" font-size="16.5" font-family="Liberation Sans, sans-serif" text-anchor="end" stroke="#000" stroke-width="0.25">1.2</text>
<text x="60.6" y="834.1" font-size="16.5" font-family="Liberation Sans, sans-serif" text-anchor="end" stroke="#000" stroke-width="0.25">0.8</text>
<text x="60.6" y="900.6" font-size="16.5" font-family="Liberation Sans, sans-serif" text-anchor="end" stroke="#000" stroke-width="0.25">0.4</text>
<text x="60.6" y="960.1" font-size="16.5" font-family="Liberation Sans, sans-serif" text-anchor="end" stroke="#000" stroke-width="0.25">0.0</text>
<text x="59.1" y="994.6" font-size="16.5" font-family="Liberation Sans, sans-serif" text-anchor="end" stroke="#000" stroke-width="0.25">3.2</text>
<text x="59.1" y="1047.6" font-size="16.5" font-family="Liberation Sans, sans-serif" text-anchor="end" stroke="#000" stroke-width="0.25">2.4</text>
<text x="59.1" y="1100.1" font-size="16.5" font-family="Liberation Sans, sans-serif" text-anchor="end" stroke="#000" stroke-width="0.25">1.6</text>
<text x="59.1" y="1153.1" font-size="16.5" font-family="Liberation Sans, sans-serif" text-anchor="end" stroke="#000" stroke-width="0.25">0.8</text>
<text x="59.1" y="1206.6" font-size="16.5" font-family="Liberation Sans, sans-serif" text-anchor="end" stroke="#000" stroke-width="0.25">0.0</text>
<text x="90.9" y="100.2" font-size="18" font-family="Liberation Sans, sans-serif" text-anchor="middle" stroke="#000" stroke-width="0.12">a</text>
<text x="122.6" y="62.15" font-size="18" font-family="Liberation Sans, sans-serif" text-anchor="middle" stroke="#000" stroke-width="0.12">a</text>
<text x="191.5" y="118.25" font-size="18" font-family="Liberation Sans, sans-serif" text-anchor="middle" stroke="#000" stroke-width="0.12">a</text>
<text x="222.1" y="118.25" font-size="18" font-family="Liberation Sans, sans-serif" text-anchor="middle" stroke="#000" stroke-width="0.12">a</text>
<text x="291.5" y="86.05" font-size="18" font-family="Liberation Sans, sans-serif" text-anchor="middle" stroke="#000" stroke-width="0.12">a</text>
<text x="321.4" y="81.8" font-size="18" font-family="Liberation Sans, sans-serif" text-anchor="middle" stroke="#000" stroke-width="0.12">a</text>
<text x="391.2" y="80.7" font-size="18" font-family="Liberation Sans, sans-serif" text-anchor="middle" stroke="#000" stroke-width="0.12">a</text>
<text x="421.7" y="98.2" font-size="18" font-family="Liberation Sans, sans-serif" text-anchor="middle" stroke="#000" stroke-width="0.12">a</text>
<text x="452.8" y="158.35" font-size="18" font-family="Liberation Sans, sans-serif" text-anchor="middle" stroke="#000" stroke-width="0.12">b</text>
<text x="496.1" y="119.9" font-size="18" font-family="Liberation Sans, sans-serif" text-anchor="middle" stroke="#000" stroke-width="0.12">a</text>
<text x="526.7" y="112.7" font-size="18" font-family="Liberation Sans, sans-serif" text-anchor="middle" stroke="#000" stroke-width="0.12">a</text>
<text x="555" y="146.65" font-size="18" font-family="Liberation Sans, sans-serif" text-anchor="middle" stroke="#000" stroke-width="0.12">a</text>
<text x="591.1" y="143.05" font-size="18" font-family="Liberation Sans, sans-serif" text-anchor="middle" stroke="#000" stroke-width="0.12">a</text>
<text x="620.9" y="139" font-size="18" font-family="Liberation Sans, sans-serif" text-anchor="middle" stroke="#000" stroke-width="0.12">a</text>
<text x="651" y="142.1" font-size="18" font-family="Liberation Sans, sans-serif" text-anchor="middle" stroke="#000" stroke-width="0.12">a</text>
<text x="91.1" y="302.65" font-size="18" font-family="Liberation Sans, sans-serif" text-anchor="middle" stroke="#000" stroke-width="0.12">a</text>
<text x="122.1" y="319.25" font-size="18" font-family="Liberation Sans, sans-serif" text-anchor="middle" stroke="#000" stroke-width="0.12">a</text>
<text x="197.2" y="343.05" font-size="18" font-family="Liberation Sans, sans-serif" text-anchor="middle" stroke="#000" stroke-width="0.12">a</text>
<text x="226" y="351.75" font-size="18" font-family="Liberation Sans, sans-serif" text-anchor="middle" stroke="#000" stroke-width="0.12">a</text>
<text x="293.6" y="332.25" font-size="18" font-family="Liberation Sans, sans-serif" text-anchor="middle" stroke="#000" stroke-width="0.12">a</text>
<text x="322.9" y="337.25" font-size="18" font-family="Liberation Sans, sans-serif" text-anchor="middle" stroke="#000" stroke-width="0.12">a</text>
<text x="391.7" y="304.85" font-size="18" font-family="Liberation Sans, sans-serif" text-anchor="middle" stroke="#000" stroke-width="0.12">a</text>
<text x="423.1" y="358.55" font-size="18" font-family="Liberation Sans, sans-serif" text-anchor="middle" stroke="#000" stroke-width="0.12">b</text>
<text x="450.1" y="372.55" font-size="18" font-family="Liberation Sans, sans-serif" text-anchor="middle" stroke="#000" stroke-width="0.12">b</text>
<text x="496.9" y="341.85" font-size="18" font-family="Liberation Sans, sans-serif" text-anchor="middle" stroke="#000" stroke-width="0.12">a</text>
<text x="528.2" y="362.95" font-size="18" font-family="Liberation Sans, sans-serif" text-anchor="middle" stroke="#000" stroke-width="0.12">b</text>
<text x="557.1" y="379.9" font-size="18" font-family="Liberation Sans, sans-serif" text-anchor="middle" stroke="#000" stroke-width="0.12">b</text>
<text x="594.8" y="324.45" font-size="18" font-family="Liberation Sans, sans-serif" text-anchor="middle" stroke="#000" stroke-width="0.12">a</text>
<text x="624.2" y="360.45" font-size="18" font-family="Liberation Sans, sans-serif" text-anchor="middle" stroke="#000" stroke-width="0.12">a</text>
<text x="653.6" y="330.85" font-size="18" font-family="Liberation Sans, sans-serif" text-anchor="middle" stroke="#000" stroke-width="0.12">a</text>
<text x="91.7" y="544.9" font-size="18" font-family="Liberation Sans, sans-serif" text-anchor="middle" stroke="#000" stroke-width="0.12">a</text>
<text x="122.1" y="533.9" font-size="18" font-family="Liberation Sans, sans-serif" text-anchor="middle" stroke="#000" stroke-width="0.12">a</text>
<text x="192.6" y="611.55" font-size="18" font-family="Liberation Sans, sans-serif" text-anchor="middle" stroke="#000" stroke-width="0.12">b</text>
<text x="222" y="585.95" font-size="18" font-family="Liberation Sans, sans-serif" text-anchor="middle" stroke="#000" stroke-width="0.12">a</text>
<text x="292.1" y="586" font-size="18" font-family="Liberation Sans, sans-serif" text-anchor="middle" stroke="#000" stroke-width="0.12">a</text>
<text x="322.7" y="575.85" font-size="18" font-family="Liberation Sans, sans-serif" text-anchor="middle" stroke="#000" stroke-width="0.12">a</text>
<text x="391.7" y="542.7" font-size="18" font-family="Liberation Sans, sans-serif" text-anchor="middle" stroke="#000" stroke-width="0.12">a</text>
<text x="422.8" y="555.9" font-size="18" font-family="Liberation Sans, sans-serif" text-anchor="middle" stroke="#000" stroke-width="0.12">b</text>
<text x="451.3" y="609.55" font-size="18" font-family="Liberation Sans, sans-serif" text-anchor="middle" stroke="#000" stroke-width="0.12">c</text>
<text x="495.1" y="589.75" font-size="18" font-family="Liberation Sans, sans-serif" text-anchor="middle" stroke="#000" stroke-width="0.12">ab</text>
<text x="525.2" y="577.15" font-size="18" font-family="Liberation Sans, sans-serif" text-anchor="middle" stroke="#000" stroke-width="0.12">a</text>
<text x="556" y="607.35" font-size="18" font-family="Liberation Sans, sans-serif" text-anchor="middle" stroke="#000" stroke-width="0.12">b</text>
<text x="592.2" y="569.85" font-size="18" font-family="Liberation Sans, sans-serif" text-anchor="middle" stroke="#000" stroke-width="0.12">a</text>
<text x="623.6" y="592.05" font-size="18" font-family="Liberation Sans, sans-serif" text-anchor="middle" stroke="#000" stroke-width="0.12">a</text>
<text x="653.2" y="578.45" font-size="18" font-family="Liberation Sans, sans-serif" text-anchor="middle" stroke="#000" stroke-width="0.12">a</text>
<text x="91.5" y="792.5" font-size="18" font-family="Liberation Sans, sans-serif" text-anchor="middle" stroke="#000" stroke-width="0.12">a</text>
<text x="121.3" y="797.2" font-size="18" font-family="Liberation Sans, sans-serif" text-anchor="middle" stroke="#000" stroke-width="0.12">a</text>
<text x="191.3" y="841.85" font-size="18" font-family="Liberation Sans, sans-serif" text-anchor="middle" stroke="#000" stroke-width="0.12">a</text>
<text x="222.1" y="846" font-size="18" font-family="Liberation Sans, sans-serif" text-anchor="middle" stroke="#000" stroke-width="0.12">a</text>
<text x="291.8" y="807.65" font-size="18" font-family="Liberation Sans, sans-serif" text-anchor="middle" stroke="#000" stroke-width="0.12">a</text>
<text x="321.5" y="807.45" font-size="18" font-family="Liberation Sans, sans-serif" text-anchor="middle" stroke="#000" stroke-width="0.12">a</text>
<text x="392.5" y="786.15" font-size="18" font-family="Liberation Sans, sans-serif" text-anchor="middle" stroke="#000" stroke-width="0.12">a</text>
<text x="421.9" y="795.7" font-size="18" font-family="Liberation Sans, sans-serif" text-anchor="middle" stroke="#000" stroke-width="0.12">a</text>
<text x="452" y="823.45" font-size="18" font-family="Liberation Sans, sans-serif" text-anchor="middle" stroke="#000" stroke-width="0.12">b</text>
<text x="494.7" y="826.15" font-size="18" font-family="Liberation Sans, sans-serif" text-anchor="middle" stroke="#000" stroke-width="0.12">a</text>
<text x="524.9" y="840.35" font-size="18" font-family="Liberation Sans, sans-serif" text-anchor="middle" stroke="#000" stroke-width="0.12">b</text>
<text x="553.8" y="852.75" font-size="18" font-family="Liberation Sans, sans-serif" text-anchor="middle" stroke="#000" stroke-width="0.12">b</text>
<text x="594.7" y="796.4" font-size="18" font-family="Liberation Sans, sans-serif" text-anchor="middle" stroke="#000" stroke-width="0.12">ab</text>
<text x="623.7" y="792.25" font-size="18" font-family="Liberation Sans, sans-serif" text-anchor="middle" stroke="#000" stroke-width="0.12">a</text>
<text x="654.6" y="835.1" font-size="18" font-family="Liberation Sans, sans-serif" text-anchor="middle" stroke="#000" stroke-width="0.12">b</text>
<text x="90.4" y="1004.05" font-size="18" font-family="Liberation Sans, sans-serif" text-anchor="middle" stroke="#000" stroke-width="0.12">a</text>
<text x="121" y="993.1" font-size="18" font-family="Liberation Sans, sans-serif" text-anchor="middle" stroke="#000" stroke-width="0.12">a</text>
<text x="191.7" y="1061.25" font-size="18" font-family="Liberation Sans, sans-serif" text-anchor="middle" stroke="#000" stroke-width="0.12">a</text>
<text x="222.5" y="1051.85" font-size="18" font-family="Liberation Sans, sans-serif" text-anchor="middle" stroke="#000" stroke-width="0.12">a</text>
<text x="292" y="1025.65" font-size="18" font-family="Liberation Sans, sans-serif" text-anchor="middle" stroke="#000" stroke-width="0.12">a</text>
<text x="322" y="1022.25" font-size="18" font-family="Liberation Sans, sans-serif" text-anchor="middle" stroke="#000" stroke-width="0.12">a</text>
<text x="391.7" y="993.75" font-size="18" font-family="Liberation Sans, sans-serif" text-anchor="middle" stroke="#000" stroke-width="0.12">a</text>
<text x="422.8" y="1014.35" font-size="18" font-family="Liberation Sans, sans-serif" text-anchor="middle" stroke="#000" stroke-width="0.12">b</text>
<text x="453.6" y="1071.3" font-size="18" font-family="Liberation Sans, sans-serif" text-anchor="middle" stroke="#000" stroke-width="0.12">c</text>
<text x="494.7" y="1047.95" font-size="18" font-family="Liberation Sans, sans-serif" text-anchor="middle" stroke="#000" stroke-width="0.12">a</text>
<text x="524.9" y="1044.85" font-size="18" font-family="Liberation Sans, sans-serif" text-anchor="middle" stroke="#000" stroke-width="0.12">a</text>
<text x="553.9" y="1074.55" font-size="18" font-family="Liberation Sans, sans-serif" text-anchor="middle" stroke="#000" stroke-width="0.12">b</text>
<text x="595.5" y="1034.45" font-size="18" font-family="Liberation Sans, sans-serif" text-anchor="middle" stroke="#000" stroke-width="0.12">a</text>
<text x="625.8" y="1042.6" font-size="18" font-family="Liberation Sans, sans-serif" text-anchor="middle" stroke="#000" stroke-width="0.12">a</text>
<text x="655.5" y="1052.55" font-size="18" font-family="Liberation Sans, sans-serif" text-anchor="middle" stroke="#000" stroke-width="0.12">a</text>
<text x="315.6" y="21.9" font-size="13.8" font-family="Liberation Sans, sans-serif" stroke="#000" stroke-width="0.05">Delisa</text>
<text x="316.6" y="36.9" font-size="13.8" font-family="Liberation Sans, sans-serif" stroke="#000" stroke-width="0.05">522DK</text>
<text x="613.6" y="19.4" font-size="13.8" font-family="Liberation Sans, sans-serif" stroke="#000" stroke-width="0.05">Bowman</text>
<text x="613.6" y="35.4" font-size="13.8" font-family="Liberation Sans, sans-serif" stroke="#000" stroke-width="0.05">BW084</text>
<text x="613.6" y="51.4" font-size="13.8" font-family="Liberation Sans, sans-serif" stroke="#000" stroke-width="0.05">BW312</text>
<text x="95.3" y="1219.8" font-size="16.5" font-family="Liberation Sans, sans-serif" stroke="#000" stroke-width="0.35">20<tspan font-size="13.5" dy="-5">o</tspan><tspan dy="5">C</tspan></text>
<text x="200" y="1219.8" font-size="16.5" font-family="Liberation Sans, sans-serif" stroke="#000" stroke-width="0.35">5<tspan font-size="13.5" dy="-5">o</tspan><tspan dy="5">C</tspan></text>
<text x="296.3" y="1219.8" font-size="16.5" font-family="Liberation Sans, sans-serif" stroke="#000" stroke-width="0.35">27<tspan font-size="13.5" dy="-5">o</tspan><tspan dy="5">C</tspan></text>
<text x="403.6" y="1219.8" font-size="16.5" font-family="Liberation Sans, sans-serif" stroke="#000" stroke-width="0.35">20<tspan font-size="13.5" dy="-5">o</tspan><tspan dy="5">C</tspan></text>
<text x="509.7" y="1219.8" font-size="16.5" font-family="Liberation Sans, sans-serif" stroke="#000" stroke-width="0.35">5<tspan font-size="13.5" dy="-5">o</tspan><tspan dy="5">C</tspan></text>
<text x="606.8" y="1219.8" font-size="16.5" font-family="Liberation Sans, sans-serif" stroke="#000" stroke-width="0.35">27<tspan font-size="13.5" dy="-5">o</tspan><tspan dy="5">C</tspan></text>
<text transform="translate(323.1,1244.9) scale(1.05,1)" font-size="16.3" font-family="Liberation Sans, sans-serif" font-weight="bold" stroke="#000" stroke-width="0.35">Temperature</text>
<text transform="translate(25.5,175.95) rotate(-90) scale(1.05,1)" font-size="18" font-family="Liberation Sans, sans-serif">t-Z <tspan dx="-1.3">[ng&#183;g</tspan><tspan font-size="11.5" dy="-8.3" dx="0.4">-1</tspan><tspan dy="8.3" dx="1.6" letter-spacing="0.55">F.W.]</tspan></text>
<text transform="translate(21.6,415.05) rotate(-90) scale(1.05,1)" font-size="18" font-family="Liberation Sans, sans-serif">c-Z <tspan dx="-1.3">[ng&#183;g</tspan><tspan font-size="11.5" dy="-8.3" dx="0.4">-1</tspan><tspan dy="8.3" dx="1.6" letter-spacing="0.55">F.W.]</tspan></text>
<text transform="translate(27,660.2) rotate(-90) scale(1.05,1)" font-size="18" font-family="Liberation Sans, sans-serif">DHZ <tspan dx="-1.3">[ng&#183;g</tspan><tspan font-size="11.5" dy="-8.3" dx="0.4">-1</tspan><tspan dy="8.3" dx="1.6" letter-spacing="0.55">F.W.]</tspan></text>
<text transform="translate(26.9,897.35) rotate(-90) scale(1.05,1)" font-size="18" font-family="Liberation Sans, sans-serif">t-ZOG <tspan dx="-1.3">[ng&#183;g</tspan><tspan font-size="11.5" dy="-8.3" dx="0.4">-1</tspan><tspan dy="8.3" dx="1.6" letter-spacing="0.55">F.W.]</tspan></text>
<text transform="translate(26.1,1145.1) rotate(-90) scale(1.08,1)" font-size="18" font-family="Liberation Sans, sans-serif">Total cytokinin</text>
</svg>
</body></html>
